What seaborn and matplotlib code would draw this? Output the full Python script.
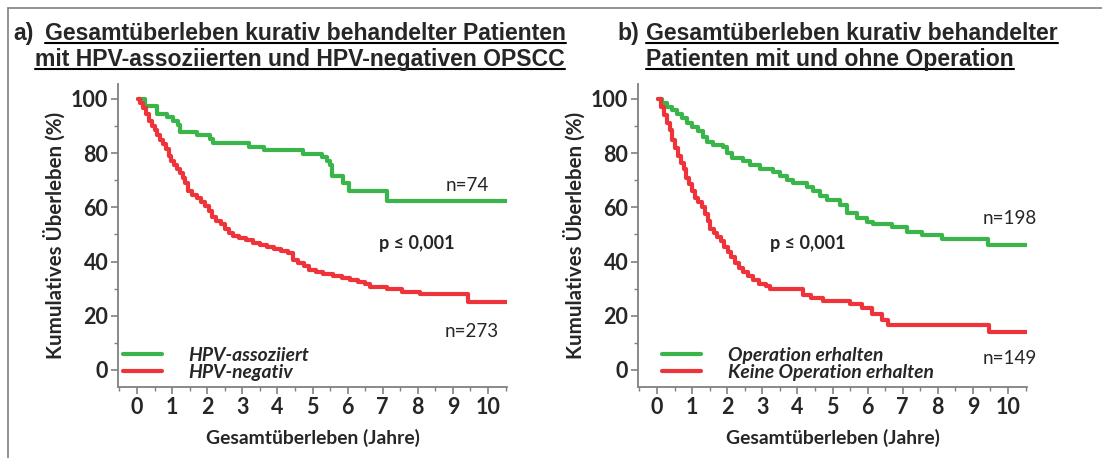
import pandas as pd
import seaborn as sns
import matplotlib.pyplot as plt
from matplotlib.lines import Line2D
from matplotlib.ticker import MultipleLocator

# Kaplan-Meier curves (time in years, survival in %)
hpv_pos_t = [0.04, 0.23, 0.56, 0.86, 1.03, 1.18, 1.24, 1.70, 2.08, 2.17, 3.20, 3.63, 4.74,
             5.26, 5.40, 5.50, 5.55, 5.88, 6.05, 7.11, 10.53]
hpv_pos_s = [100, 97.3, 94.6, 93.2, 91.9, 90.5, 87.8, 86.5, 85.1, 83.8, 82.4, 81.1, 79.7,
             78.4, 77.0, 75.7, 71.6, 68.9, 66.2, 62.2, 62.2]

hpv_neg_t = [0.04, 0.10, 0.18, 0.26, 0.34, 0.42, 0.50, 0.58, 0.66, 0.74, 0.82, 0.90, 0.98,
             1.06, 1.14, 1.22, 1.30, 1.38, 1.46, 1.58, 1.70, 1.82, 1.94, 2.04, 2.14, 2.26,
             2.38, 2.50, 2.62, 2.74, 2.90, 3.10, 3.30, 3.50, 3.70, 3.90, 4.10, 4.30, 4.45,
             4.60, 4.75, 4.90, 5.10, 5.31, 5.59, 5.85, 6.07, 6.30, 6.50, 6.65, 7.11, 7.54,
             8.06, 9.44, 10.53]
hpv_neg_s = [100, 98.5, 96.5, 94.5, 92, 90, 88.5, 86.5, 85, 83.5, 81.5, 79, 77,
             75.5, 74, 72.5, 71, 69, 66, 64.5, 63.5, 62, 60.5, 58.5, 56.5, 55,
             54, 52, 50.5, 49.5, 48.5, 47.8, 47, 46.2, 45.3, 44.5, 43.8, 43, 40.5,
             39.5, 38.5, 37, 36.2, 35.5, 34.7, 34, 33.2, 32.5, 31.8, 30.5, 29.7, 28.9,
             28.0, 25.2, 25.2]

op_t = [0.04, 0.15, 0.28, 0.42, 0.56, 0.70, 0.85, 1.00, 1.18, 1.30, 1.42, 1.60, 1.89, 2.00,
        2.13, 2.46, 2.65, 2.93, 3.31, 3.50, 3.70, 3.88, 4.26, 4.45, 4.65, 4.83, 5.21, 5.40,
        5.69, 5.97, 6.16, 6.69, 7.11, 7.54, 8.11, 9.44, 10.53]
op_s = [100, 98.5, 97, 95.8, 94.6, 93, 91.2, 89.8, 88, 86, 84.2, 83, 82.2, 80,
        78.1, 77.2, 75.5, 74.3, 73.1, 71.5, 70, 68.8, 67.5, 66, 64.2, 62.8, 61, 58,
        56, 54.7, 53.9, 52.9, 51, 49.8, 48.3, 46.0, 46.0]

no_op_t = [0.04, 0.12, 0.20, 0.28, 0.36, 0.44, 0.52, 0.60, 0.68, 0.76, 0.84, 0.92, 1.00,
           1.08, 1.17, 1.27, 1.36, 1.44, 1.52, 1.62, 1.72, 1.82, 1.92, 2.02, 2.12, 2.22,
           2.34, 2.46, 2.60, 2.74, 2.90, 3.10, 3.22, 4.17, 4.40, 4.74, 5.50, 5.83, 6.12,
           6.40, 6.59, 9.46, 10.53]
no_op_s = [100, 97, 94, 91, 88.5, 85, 82, 79, 76.5, 74, 71, 68.5, 66,
           63.5, 62, 60, 57.5, 55, 52, 50.5, 49, 47.5, 45.5, 43.5, 41.5, 39.5,
           37.5, 36, 34.5, 33, 31.8, 31, 30, 27.5, 26.5, 25.5, 24.2, 22.8, 20.5,
           18.5, 16.4, 14.0, 14.0]

GREEN = "#3AB54A"
RED = "#EE333B"
GRAY = "#808080"

sns.set_style("ticks")
plt.rcParams['font.family'] = ['Lato', 'DejaVu Sans']

W, H = 1102, 458
fig = plt.figure(figsize=(W / 100, H / 100), dpi=100)


def px_axes(left, top, right, bottom):
    return fig.add_axes([left / W, 1 - bottom / H, (right - left) / W, (bottom - top) / H])


def km_panel(ax, series, labels, notes, leg_x):
    for (t, s), lab, col in zip(series, labels, [GREEN, RED]):
        df = pd.DataFrame({"Jahre": t, "Ueberleben": s})
        sns.lineplot(data=df, x="Jahre", y="Ueberleben", ax=ax, color=col, lw=3.0,
                     drawstyle="steps-post", estimator=None, sort=False, label=lab)
    ax.set_xlim(-0.54, 10.54)
    ax.set_ylim(-6.3, 105.5)
    ax.set_xticks(range(0, 11))
    ax.set_yticks(range(0, 101, 20))
    ax.xaxis.set_minor_locator(MultipleLocator(0.5))
    ax.yaxis.set_minor_locator(MultipleLocator(10))
    ax.tick_params(which="major", length=5, width=1.2, color=GRAY, pad=2, labelsize=15.5)
    ax.tick_params(which="minor", length=3, width=1.0, color=GRAY)
    for lab in ax.get_xticklabels() + ax.get_yticklabels():
        lab.set_fontweight("bold")
    for sp in ["left", "bottom"]:
        ax.spines[sp].set_color(GRAY)
        ax.spines[sp].set_linewidth(1.3)
    sns.despine(ax=ax)
    ax.set_xlabel("Gesamtüberleben (Jahre)", fontsize=13.9, fontweight="bold", labelpad=8)
    ax.set_ylabel("Kumulatives Überleben (%)", fontsize=14.8, fontweight="bold", labelpad=4)
    handles, labs = ax.get_legend_handles_labels()
    ax.legend(handles, labs, loc="lower left", bbox_to_anchor=(leg_x, 0.02), frameon=False,
              borderpad=0, borderaxespad=0, handlelength=2.0, handletextpad=1.4,
              labelspacing=0.0, prop={"size": 13.9, "weight": "bold", "style": "italic"})
    for x, y, txt, bold in notes:
        ax.text(x, y, txt, ha="center", va="center", fontsize=13 if bold else 13.5,
                fontweight="bold" if bold else "normal")


ax_a = px_axes(118, 84, 507, 387)
km_panel(ax_a, [(hpv_pos_t, hpv_pos_s), (hpv_neg_t, hpv_neg_s)],
         ["HPV-assoziiert", "HPV-negativ"],
         [(9.4, 68.0, "n=74", False), (7.98, 46.5, "p ≤ 0,001", True),
          (9.54, 14.0, "n=273", False)], 0.013)

ax_b = px_axes(638, 84, 1027, 387)
km_panel(ax_b, [(op_t, op_s), (no_op_t, no_op_s)],
         ["Operation erhalten", "Keine Operation erhalten"],
         [(10.06, 55.7, "n=198", False), (4.30, 46.5, "p ≤ 0,001", True),
          (10.06, 4.4, "n=149", False)], 0.062)

# titles (underlined) in Arial-like bold
title_kw = dict(fontsize=16.6, fontweight="bold", family="Liberation Sans", va="baseline")
underlined = []
fig.text(13 / W, 1 - 40 / H, "a)", ha="left", **title_kw)
underlined.append(fig.text(45 / W, 1 - 40 / H, "Gesamtüberleben kurativ behandelter Patienten",
                           ha="left", **title_kw))
underlined.append(fig.text(300 / W, 1 - 66 / H, "mit HPV-assoziierten und HPV-negativen OPSCC",
                           ha="center", **title_kw))
fig.text(617 / W, 1 - 40 / H, "b)", ha="left", **title_kw)
underlined.append(fig.text(646 / W, 1 - 40 / H, "Gesamtüberleben kurativ behandelter",
                           ha="left", **title_kw))
underlined.append(fig.text(830 / W, 1 - 66 / H, "Patienten mit und ohne Operation",
                           ha="center", **title_kw))

fig.canvas.draw()
renderer = fig.canvas.get_renderer()
for t in underlined:
    bb = t.get_window_extent(renderer)
    _, y0 = t.get_position()
    yline = y0 - 3.0 / H
    fig.add_artist(Line2D([bb.x0 / W, bb.x1 / W], [yline, yline], color="black", lw=1.5,
                          transform=fig.transFigure))

# frame around the figure
fig.add_artist(Line2D([8 / W, 1], [1 - 8 / H, 1 - 8 / H], color=GRAY, lw=1.2,
                      transform=fig.transFigure))
fig.add_artist(Line2D([8 / W, 8 / W], [0, 1 - 8 / H], color=GRAY, lw=1.2,
                      transform=fig.transFigure))

fig.savefig("out.png", dpi=100)
